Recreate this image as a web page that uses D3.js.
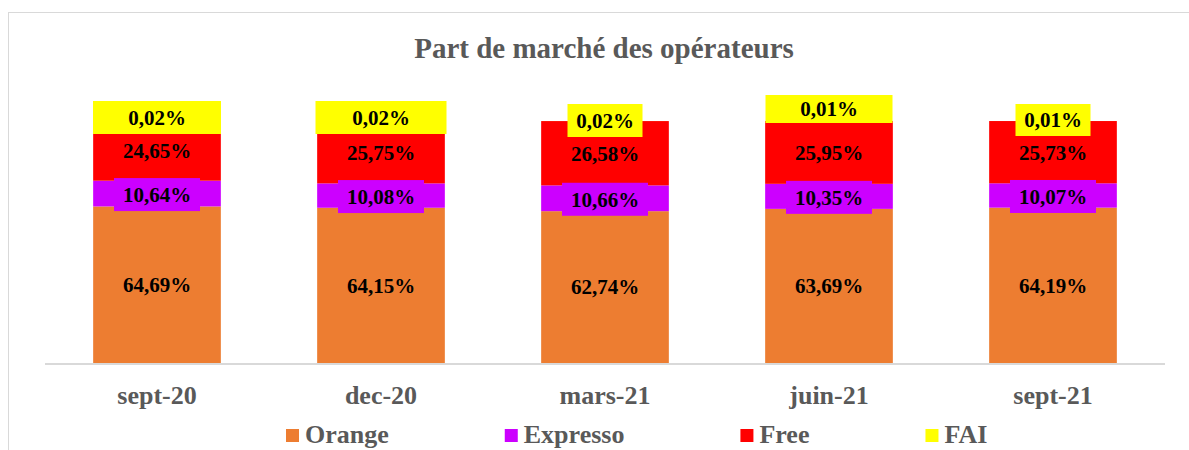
<!DOCTYPE html>
<html>
  <head>
    <meta charset="utf-8" />
    <title>Part de marché des opérateurs</title>
    <script src="https://d3js.org/d3.v7.min.js"></script>
    <style>
      body {
        margin: 0;
        background: #fff;
      }
      text {
        font-family: "Liberation Serif", "Times New Roman", serif;
        font-weight: bold;
      }
    </style>
  </head>
  <body>
    <svg width="1189" height="450"></svg>
    <script>
      // données
      const categories = ["sept-20", "dec-20", "mars-21", "juin-21", "sept-21"];
      const seriesNames = ["Orange", "Expresso", "Free", "FAI"];
      const orange = [64.69, 64.15, 62.74, 63.69, 64.19];
      const expresso = [10.64, 10.08, 10.66, 10.35, 10.07];
      const free = [24.65, 25.75, 26.58, 25.95, 25.73];
      const fai = [0.02, 0.02, 0.02, 0.01, 0.01];

      const colors = ["#ED7D31", "#CC00FF", "#FF0000", "#FFFF00"];
      // boîtes des étiquettes FAI (placées à la main dans l'original)
      const faiBox = [
        { w: 128, h: 33, dy: -3.5 },
        { w: 131, h: 33, dy: -3.5 },
        { w: 75, h: 33, dy: -0.5 },
        { w: 127, h: 28, dy: -12 },
        { w: 75, h: 32, dy: -1 },
      ];

      const svg = d3.select("svg");
      const fmt = (v) => v.toFixed(2).replace(".", ",") + "%";

      // cadre du graphique
      svg
        .append("rect")
        .attr("x", 8.5)
        .attr("y", 12.5)
        .attr("width", 1300)
        .attr("height", 600)
        .attr("fill", "none")
        .attr("stroke", "#d9d9d9");

      svg
        .append("text")
        .attr("x", 604)
        .attr("y", 58)
        .attr("text-anchor", "middle")
        .attr("fill", "#595959")
        .style("font-size", "29px")
        .text("Part de marché des opérateurs");

      const x = d3
        .scaleBand()
        .domain(categories)
        .range([45, 1165])
        .paddingInner(0.43)
        .paddingOuter(0.215);
      const y = d3.scaleLinear().domain([0, 100]).range([363, 121]);

      const table = categories.map((c, i) => ({
        cat: c,
        Orange: orange[i],
        Expresso: expresso[i],
        Free: free[i],
        FAI: fai[i],
      }));
      const stacked = d3.stack().keys(seriesNames)(table);

      const layers = svg
        .selectAll(".layer")
        .data(stacked)
        .enter()
        .append("g")
        .attr("fill", (d, i) => colors[i]);

      layers
        .selectAll("rect")
        .data((d) => d)
        .enter()
        .append("rect")
        .attr("x", (d) => x(d.data.cat))
        .attr("width", x.bandwidth())
        .attr("y", (d) => y(d[1]))
        .attr("height", (d) => y(d[0]) - y(d[1]));

      // axe
      svg
        .append("line")
        .attr("x1", 45)
        .attr("x2", 1165)
        .attr("y1", 364)
        .attr("y2", 364)
        .attr("stroke", "#d9d9d9")
        .attr("stroke-width", 2);

      svg
        .selectAll(".cat")
        .data(categories)
        .enter()
        .append("text")
        .attr("x", (d) => x(d) + x.bandwidth() / 2)
        .attr("y", 404)
        .attr("text-anchor", "middle")
        .attr("fill", "#595959")
        .style("font-size", "26px")
        .text((d) => d);

      // étiquettes de données
      stacked.forEach((layer, si) => {
        layer.forEach((d, i) => {
          const cx = x(d.data.cat) + x.bandwidth() / 2;
          let cy = (y(d[0]) + y(d[1])) / 2;
          if (si === 1) {
            cy += 1;
            svg
              .append("rect")
              .attr("x", cx - 43)
              .attr("y", cy - 16.5)
              .attr("width", 86)
              .attr("height", 33)
              .attr("fill", colors[1]);
          }
          if (si === 3) {
            const b = faiBox[i];
            cy = y(d[1]) + b.dy;
            svg
              .append("rect")
              .attr("x", cx - b.w / 2)
              .attr("y", cy - b.h / 2)
              .attr("width", b.w)
              .attr("height", b.h)
              .attr("fill", colors[3]);
          }
          svg
            .append("text")
            .attr("x", cx)
            .attr("y", cy)
            .attr("dy", "0.35em")
            .attr("text-anchor", "middle")
            .attr("fill", "#000")
            .style("font-size", "21px")
            .text(fmt(d.data[seriesNames[si]]));
        });
      });

      // légende
      let lx = 286;
      seriesNames.forEach((name, i) => {
        svg
          .append("rect")
          .attr("x", lx)
          .attr("y", 429)
          .attr("width", 13)
          .attr("height", 13)
          .attr("fill", colors[i]);
        const t = svg
          .append("text")
          .attr("x", lx + 19)
          .attr("y", 443)
          .attr("fill", "#595959")
          .style("font-size", "26px")
          .text(name);
        lx += 19 + t.node().getComputedTextLength() + 116;
      });
    </script>
  </body>
</html>
